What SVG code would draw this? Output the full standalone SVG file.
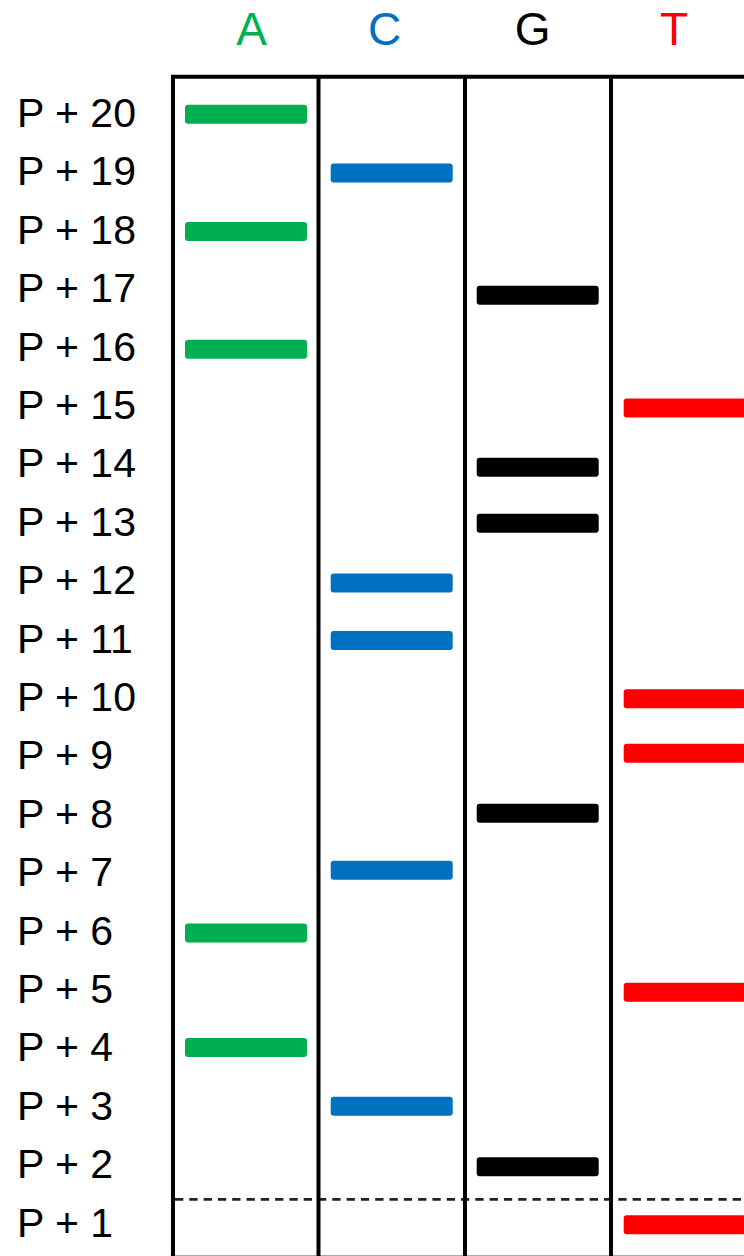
<svg xmlns="http://www.w3.org/2000/svg" width="744" height="1256" viewBox="0 0 744 1256">
<style>
text{font-family:"Liberation Sans",Arial,sans-serif}
.hd{font-size:46px;text-anchor:middle}
.lb{font-size:41px;fill:#000}
.grid{stroke:#000;stroke-width:4;fill:none}
.a{fill:#00B050}.c{fill:#0070C0}.g{fill:#000}.t{fill:#FF0000}
</style>
<defs>
<rect id="band" x="0" y="-9.5" width="122" height="19" rx="3"/>
</defs>
<rect width="744" height="1256" fill="#fff"/>
<g id="headers">
<text class="hd" x="251.5" y="45" fill="#00B050">A</text>
<text class="hd" x="384.6" y="45" fill="#0070C0">C</text>
<text class="hd" x="532.7" y="45" fill="#000">G</text>
<text class="hd" x="674" y="45" fill="#FF0000">T</text>
</g>
<g id="labels">
<text class="lb" x="17" y="127">P + 20</text>
<text class="lb" x="17" y="185.4">P + 19</text>
<text class="lb" x="17" y="243.8">P + 18</text>
<text class="lb" x="17" y="302.2">P + 17</text>
<text class="lb" x="17" y="360.6">P + 16</text>
<text class="lb" x="17" y="419">P + 15</text>
<text class="lb" x="17" y="477.4">P + 14</text>
<text class="lb" x="17" y="535.8">P + 13</text>
<text class="lb" x="17" y="594.2">P + 12</text>
<text class="lb" x="17" y="652.6">P + 11</text>
<text class="lb" x="17" y="711">P + 10</text>
<text class="lb" x="17" y="769.4">P + 9</text>
<text class="lb" x="17" y="827.8">P + 8</text>
<text class="lb" x="17" y="886.2">P + 7</text>
<text class="lb" x="17" y="944.6">P + 6</text>
<text class="lb" x="17" y="1003">P + 5</text>
<text class="lb" x="17" y="1061.4">P + 4</text>
<text class="lb" x="17" y="1119.8">P + 3</text>
<text class="lb" x="17" y="1178.2">P + 2</text>
<text class="lb" x="17" y="1236.6">P + 1</text>
</g>
<g id="gel">
<line x1="171" y1="1255.5" x2="744" y2="1255.5" stroke="#aaa" stroke-width="1"/>
<line x1="173" y1="1199.3" x2="744" y2="1199.3" stroke="#222" stroke-width="2.8" stroke-dasharray="8.3 6" stroke-dashoffset="-2"/>
<path class="grid" d="M171 76.7H744M173 75V1256M318.5 75V1256M465 75V1256M611 75V1256"/>
</g>
<g id="laneA" class="a">
<use href="#band" x="185" y="114.2"/>
<use href="#band" x="185" y="231.5"/>
<use href="#band" x="185" y="349.2"/>
<use href="#band" x="185" y="933"/>
<use href="#band" x="185" y="1047.5"/>
</g>
<g id="laneC" class="c">
<use href="#band" x="330.7" y="173"/>
<use href="#band" x="330.7" y="583"/>
<use href="#band" x="330.7" y="640.5"/>
<use href="#band" x="330.7" y="870.3"/>
<use href="#band" x="330.7" y="1106.3"/>
</g>
<g id="laneG" class="g">
<use href="#band" x="476.7" y="295.2"/>
<use href="#band" x="476.7" y="467.2"/>
<use href="#band" x="476.7" y="523.2"/>
<use href="#band" x="476.7" y="813.3"/>
<use href="#band" x="476.7" y="1166.7"/>
</g>
<g id="laneT" class="t">
<use href="#band" x="623.7" y="408"/>
<use href="#band" x="623.7" y="698.8"/>
<use href="#band" x="623.7" y="753.3"/>
<use href="#band" x="623.7" y="992.3"/>
<use href="#band" x="623.7" y="1224.8"/>
</g>
</svg>
